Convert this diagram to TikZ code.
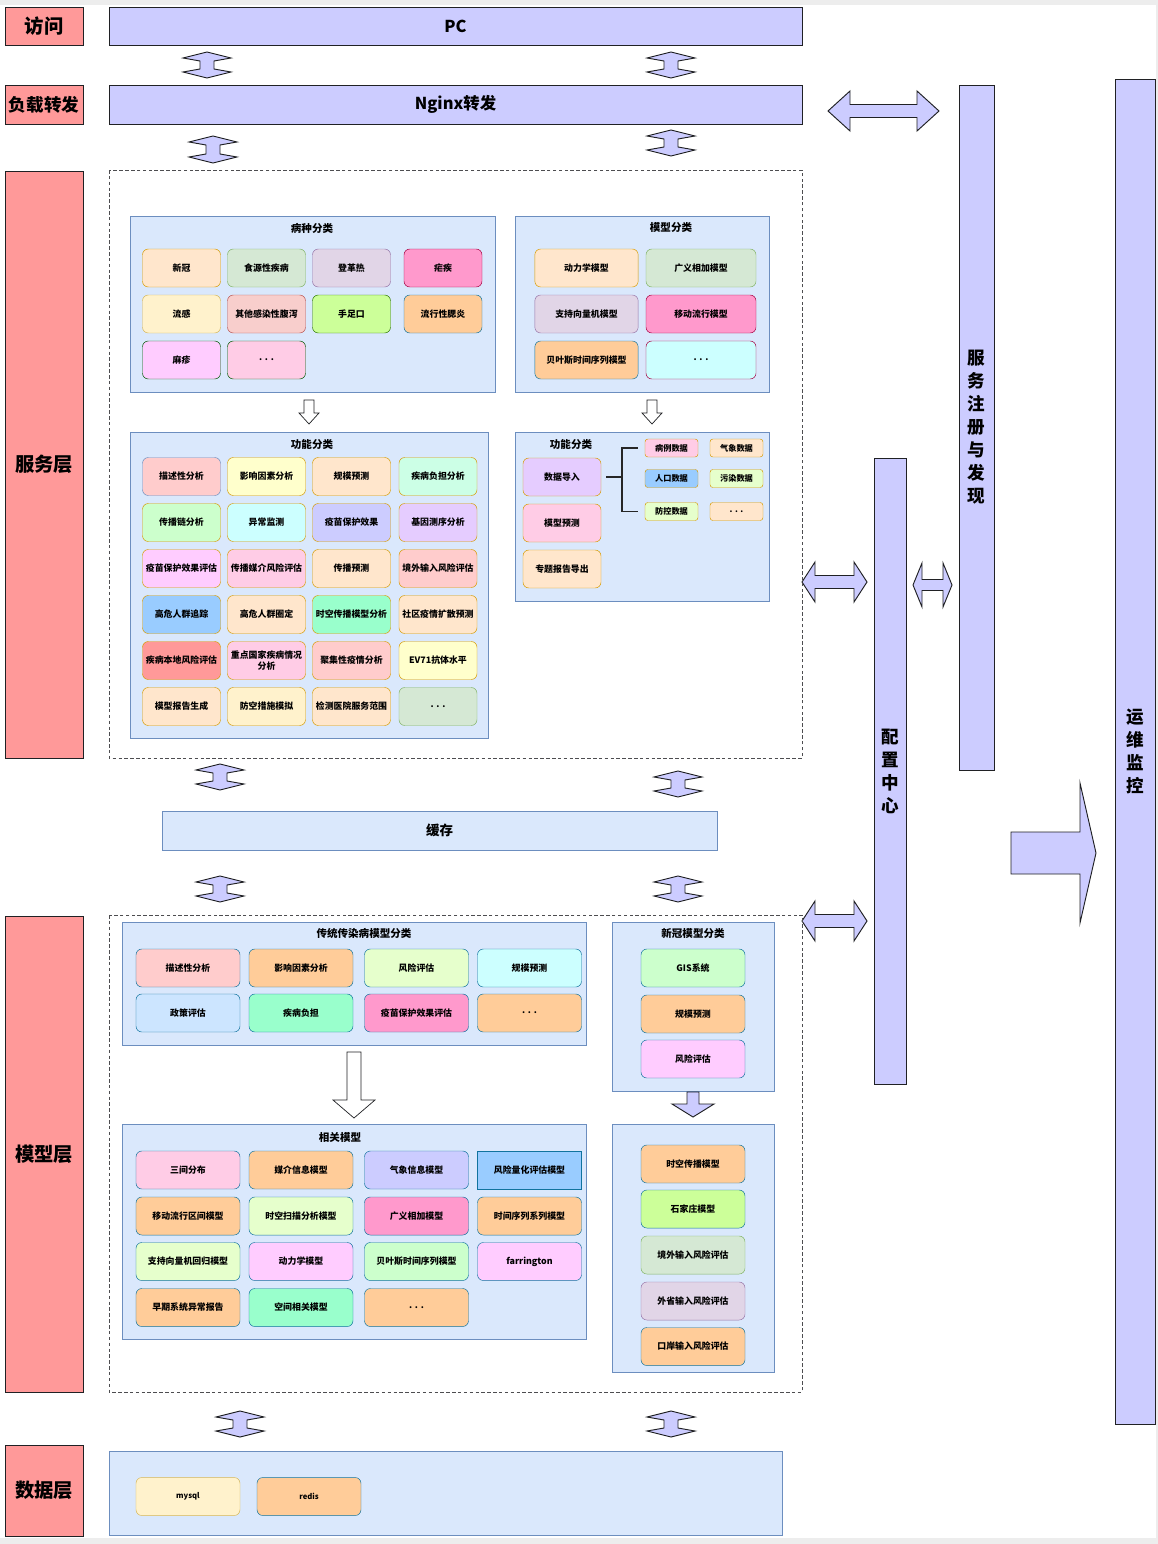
\documentclass[tikz,border=0pt]{standalone}
\usepackage{fontspec}
\setmainfont{Noto Sans CJK SC}
\usepackage{xcolor}

\definecolor{layred}{HTML}{FF9999}
\definecolor{laybar}{HTML}{CCCCFF}
\definecolor{edge}{HTML}{202124}
\definecolor{grpfill}{HTML}{DAE8FC}
\definecolor{grpline}{HTML}{6C8EBF}
\definecolor{org}{HTML}{FFE6CC}
\definecolor{orgl}{HTML}{D79B00}
\definecolor{grn}{HTML}{D5E8D4}
\definecolor{grnl}{HTML}{82B366}
\definecolor{pur}{HTML}{E1D5E7}
\definecolor{purl}{HTML}{9673A6}
\definecolor{pnk}{HTML}{FF99CC}
\definecolor{pnkl}{HTML}{A50040}
\definecolor{ylw}{HTML}{FFF2CC}
\definecolor{ylwl}{HTML}{D6B656}
\definecolor{rdf}{HTML}{F8CECC}
\definecolor{rdl}{HTML}{B85450}
\definecolor{limef}{HTML}{CCFF99}
\definecolor{limel}{HTML}{2D7600}
\definecolor{peach}{HTML}{FFCC99}
\definecolor{bluel}{HTML}{10739E}
\definecolor{mag}{HTML}{FFCCFF}
\definecolor{dgrn}{HTML}{005700}
\definecolor{rose}{HTML}{FFCCE6}
\definecolor{cyanf}{HTML}{CCFFFF}
\definecolor{salm}{HTML}{FFCCCC}
\definecolor{lyel}{HTML}{FFFFCC}
\definecolor{mint}{HTML}{CCFFE6}
\definecolor{lgrn}{HTML}{CCFFCC}
\definecolor{lav}{HTML}{E5CCFF}
\definecolor{sky}{HTML}{99CCFF}
\definecolor{aqua}{HTML}{99FFCC}
\definecolor{coral}{HTML}{FF9999}
\definecolor{pale}{HTML}{E6FFCC}
\definecolor{iceb}{HTML}{CCE5FF}

\newcommand{\updown}[3]{\draw[arr] (#1,#2) -- (#1+24,#2+6) -- (#1+7,#2+9) -- (#1+7,#3-9) -- (#1+24,#3-6) -- (#1,#3) -- (#1-24,#3-6) -- (#1-7,#3-9) -- (#1-7,#2+9) -- (#1-24,#2+6) -- cycle;}
\newcommand{\sideways}[6]{\draw[arr] (#1,#3) -- (#1+#4,#3-#5) -- (#1+#4,#3-#6) -- (#2-#4,#3-#6) -- (#2-#4,#3-#5) -- (#2,#3) -- (#2-#4,#3+#5) -- (#2-#4,#3+#6) -- (#1+#4,#3+#6) -- (#1+#4,#3+#5) -- cycle;}
\newcommand{\godown}[7]{\draw[#1] (#2-#6,#3) -- (#2+#6,#3) -- (#2+#6,#4) -- (#2+#7,#4) -- (#2,#5) -- (#2-#7,#4) -- (#2-#6,#4) -- cycle;}

\begin{document}
\begin{tikzpicture}[x=0.03cm, y=-0.03cm, font=\bfseries,
  laybox/.style={draw=edge, line width=0.8pt, fill=layred, minimum width=2.34cm, inner sep=0, font=\bfseries\fontsize{16.5}{20}\selectfont},
  bar/.style={draw=edge, line width=0.8pt, fill=laybar, inner sep=0},
  grp/.style={draw=grpline, fill=grpfill},
  grptitle/.style={inner sep=0, font=\bfseries\fontsize{9}{11}\selectfont},
  vtext/.style={bar, align=center, font=\bfseries\fontsize{15}{19.6}\selectfont},
  cell/.style={rounded corners=5pt, minimum width=2.34cm, minimum height=1.14cm, inner sep=0, align=center, font=\bfseries\fontsize{7.6}{9}\selectfont},
  mcell/.style={cell, minimum width=3.1cm},
  wcell/.style={cell, minimum width=3.12cm},
  tag/.style={cell, rounded corners=2.5pt, minimum width=1.59cm, minimum height=0.54cm, font=\bfseries\fontsize{7}{8}\selectfont},
  arr/.style={draw=edge, line width=0.8pt, fill=laybar, line join=miter},
  hollow/.style={draw=edge, line width=0.6pt, fill=white},
  zone/.style={draw=edge!80, line width=0.7pt, dash pattern=on 3pt off 2pt},
  brace/.style={draw=black!85, line width=1pt}]

  \useasboundingbox (0,0) rectangle (1158,1544);
  \fill[black!7] (0,0) rectangle (1158,1544);
  \fill[white] (0,5) rectangle (1156,1538);

  \node[laybox, minimum height=1.14cm] (acc) at (44,26) {访问};
  \node[laybox, minimum height=1.17cm, font=\bfseries\fontsize{15}{18}\selectfont] (lb) at (44,104.5) {负载转发};
  \node[laybox, minimum height=17.61cm] (svc) at (44,464.5) {服务层};
  \node[laybox, minimum height=14.28cm] (mdl) at (44,1154) {模型层};
  \node[laybox, minimum height=2.73cm] (dat) at (44,1490.5) {数据层};

  \node[bar, minimum width=20.79cm, minimum height=1.14cm, font=\bfseries\fontsize{14}{16}\selectfont] (pc) at (455.5,26) {PC};
  \node[bar, minimum width=20.79cm, minimum height=1.17cm, font=\bfseries\fontsize{14}{16}\selectfont] (nginx) at (455.5,104.5) {Nginx转发};

  \node[vtext, minimum width=1.05cm, minimum height=20.55cm] (reg) at (976.5,427.5) {服\\务\\注\\册\\与\\发\\现};
  \node[vtext, minimum width=0.96cm, minimum height=18.78cm] (cfg) at (890,771) {配\\置\\中\\心};
  \node[vtext, minimum width=1.2cm, minimum height=40.35cm] (ops) at (1135,751.5) {运\\维\\监\\控};

  \updown{207}{52}{78}
  \updown{671}{52}{78}
  \updown{213}{136}{163}
  \updown{671}{130}{156}
  \updown{220}{764}{790}
  \updown{678}{771}{797}
  \updown{220}{876}{902}
  \updown{678}{876}{902}
  \updown{240}{1411}{1437}
  \updown{671}{1411}{1437}

  \sideways{828}{939}{111}{22}{20}{6.5}
  \sideways{802}{867}{582}{13}{20}{6.5}
  \sideways{913}{952}{585}{9}{22}{5.5}
  \sideways{802}{867}{921}{13}{20}{6.5}
  \draw[arr] (1011,832) -- (1080,832) -- (1080,783) -- (1096,853) -- (1080,923) -- (1080,874) -- (1011,874) -- cycle;

  \draw[zone] (109,170) rectangle (802,758);
  \draw[zone] (109,915) rectangle (802,1392);

  \draw[grp] (130,216) rectangle (495,392);
  \node[grptitle] (Bt) at (312,228) {病种分类};
  \node[cell, fill=org, draw=orgl]     (B1)  at (181.5,268) {新冠};
  \node[cell, fill=grn, draw=grnl]     (B2)  at (266.5,268) {食源性疾病};
  \node[cell, fill=pur, draw=purl]     (B3)  at (351.5,268) {登革热};
  \node[cell, fill=pnk, draw=pnkl]     (B4)  at (443,268)   {疟疾};
  \node[cell, fill=ylw, draw=ylwl]     (B5)  at (181.5,314) {流感};
  \node[cell, fill=rdf, draw=rdl]      (B6)  at (266.5,314) {其他感染性腹泻};
  \node[cell, fill=limef, draw=limel]  (B7)  at (351.5,314) {手足口};
  \node[cell, fill=peach, draw=bluel]  (B8)  at (443,314)   {流行性腮炎};
  \node[cell, fill=mag, draw=dgrn]     (B9)  at (181.5,360) {麻疹};
  \node[cell, fill=rose, draw=dgrn]    (B10) at (266.5,360) {. . .};

  \draw[grp] (515,216) rectangle (769,392);
  \node[grptitle] (Mt) at (671,228) {模型分类};
  \node[mcell, fill=org, draw=orgl]    (M1) at (586.5,268) {动力学模型};
  \node[mcell, fill=grn, draw=grnl, minimum width=3.3cm]   (M2) at (701,268) {广义相加模型};
  \node[mcell, fill=pur, draw=purl]    (M3) at (586.5,314) {支持向量机模型};
  \node[mcell, fill=pnk, draw=pnkl, minimum width=3.3cm]   (M4) at (701,314) {移动流行模型};
  \node[mcell, fill=peach, draw=bluel] (M5) at (586.5,360) {贝叶斯时间序列模型};
  \node[mcell, fill=cyanf, draw=pnkl, minimum width=3.3cm] (M6) at (701,360) {. . .};

  \godown{hollow}{309}{400}{413}{424}{5}{10}
  \godown{hollow}{652}{400}{413}{424}{5}{10}

  \draw[grp] (130,432) rectangle (488,738);
  \node[grptitle] (Ft) at (312,444) {功能分类};
  \node[cell, fill=salm, draw=grpline] (F1)  at (181.5,476.5) {描述性分析};
  \node[cell, fill=lyel, draw=orgl]    (F2)  at (266.5,476.5) {影响因素分析};
  \node[cell, fill=org, draw=orgl]     (F3)  at (351.5,476.5) {规模预测};
  \node[cell, fill=mint, draw=orgl]    (F4)  at (438,476.5)   {疾病负担分析};
  \node[cell, fill=lgrn, draw=orgl]    (F5)  at (181.5,522.5) {传播链分析};
  \node[cell, fill=cyanf, draw=orgl]   (F6)  at (266.5,522.5) {异常监测};
  \node[cell, fill=laybar, draw=orgl]  (F7)  at (351.5,522.5) {疫苗保护效果};
  \node[cell, fill=lav, draw=orgl]     (F8)  at (438,522.5)   {基因测序分析};
  \node[cell, fill=mag, draw=orgl]     (F9)  at (181.5,568.5) {疫苗保护效果评估};
  \node[cell, fill=rose, draw=orgl]    (F10) at (266.5,568.5) {传播媒介风险评估};
  \node[cell, fill=org, draw=orgl]     (F11) at (351.5,568.5) {传播预测};
  \node[cell, fill=salm, draw=orgl]    (F12) at (438,568.5)   {境外输入风险评估};
  \node[cell, fill=sky, draw=orgl]     (F13) at (181.5,614.5) {高危人群追踪};
  \node[cell, fill=org, draw=orgl]     (F14) at (266.5,614.5) {高危人群圈定};
  \node[cell, fill=aqua, draw=orgl]    (F15) at (351.5,614.5) {时空传播模型分析};
  \node[cell, fill=org, draw=orgl]     (F16) at (438,614.5)   {社区疫情扩散预测};
  \node[cell, fill=coral, draw=orgl]   (F17) at (181.5,660.5) {疾病本地风险评估};
  \node[cell, fill=rose, draw=orgl]    (F18) at (266.5,660.5) {重点国家疾病情况\\分析};
  \node[cell, fill=salm, draw=orgl]    (F19) at (351.5,660.5) {聚集性疫情分析};
  \node[cell, fill=lyel, draw=orgl]    (F20) at (438,660.5)   {EV71抗体水平};
  \node[cell, fill=org, draw=orgl]     (F21) at (181.5,706.5) {模型报告生成};
  \node[cell, fill=ylw, draw=orgl]     (F22) at (266.5,706.5) {防空措施模拟};
  \node[cell, fill=org, draw=orgl]     (F23) at (351.5,706.5) {检测医院服务范围};
  \node[cell, fill=grn, draw=grnl]     (F24) at (438,706.5)   {. . .};

  \draw[grp] (515,432) rectangle (769,601);
  \node[grptitle] (Dt) at (571,444) {功能分类};
  \node[cell, fill=lav, draw=orgl]  (D1) at (562,477) {数据导入};
  \node[cell, fill=rose, draw=orgl] (D2) at (562,523) {模型预测};
  \node[cell, fill=org, draw=orgl]  (D3) at (562,569) {专题报告导出};
  \node[tag, fill=rose, draw=orgl]  (T1) at (671.5,448)   {病例数据};
  \node[tag, fill=org, draw=orgl]   (T2) at (736.5,448)   {气象数据};
  \node[tag, fill=sky, draw=orgl]   (T3) at (671.5,478.5) {人口数据};
  \node[tag, fill=pale, draw=orgl]  (T4) at (736.5,478.5) {污染数据};
  \node[tag, fill=pale, draw=orgl]  (T5) at (671.5,511.5) {防控数据};
  \node[tag, fill=org, draw=orgl]   (T6) at (736.5,511.5) {. . .};
  \coordinate (brk) at (622,477);
  \draw[brace] ([xshift=1.5mm]D1.east) -- (brk);
  \draw[brace] ([xshift=-2.1mm]T1.west) -| (brk) |- ([xshift=-2.1mm]T5.west);

  \node[grp, minimum width=16.65cm, minimum height=1.17cm, font=\bfseries\fontsize{11.5}{14}\selectfont] (cache) at (439.5,830.5) {缓存};

  \draw[grp] (122,922) rectangle (586,1045);
  \node[grptitle] (Ct) at (364,933) {传统传染病模型分类};
  \node[wcell, fill=salm, draw=bluel]  (C1) at (188,968)    {描述性分析};
  \node[wcell, fill=peach, draw=bluel] (C2) at (301,968)    {影响因素分析};
  \node[wcell, fill=pale, draw=bluel]  (C3) at (416.5,968)  {风险评估};
  \node[wcell, fill=cyanf, draw=bluel] (C4) at (529.5,968)  {规模预测};
  \node[wcell, fill=iceb, draw=bluel]  (C5) at (188,1013)   {政策评估};
  \node[wcell, fill=aqua, draw=bluel]  (C6) at (301,1013)   {疾病负担};
  \node[wcell, fill=pnk, draw=bluel]   (C7) at (416.5,1013) {疫苗保护效果评估};
  \node[wcell, fill=peach, draw=bluel] (C8) at (529.5,1013) {. . .};

  \draw[grp] (612,922) rectangle (774,1091);
  \node[grptitle] (Nt) at (693,933) {新冠模型分类};
  \node[wcell, fill=lgrn, draw=bluel]  (N1) at (693,968)  {GIS系统};
  \node[wcell, fill=peach, draw=bluel] (N2) at (693,1014) {规模预测};
  \node[wcell, fill=mag, draw=bluel]   (N3) at (693,1059) {风险评估};

  \godown{hollow}{354}{1052}{1100}{1118}{7}{21}
  \godown{arr}{693}{1092}{1104}{1117}{6}{21}

  \draw[grp] (122,1124) rectangle (586,1339);
  \node[grptitle] (Rt) at (340,1137) {相关模型};
  \node[wcell, fill=rose, draw=bluel]  (R1)  at (188,1170)    {三间分布};
  \node[wcell, fill=peach, draw=bluel] (R2)  at (301,1170)    {媒介信息模型};
  \node[wcell, fill=laybar, draw=bluel] (R3) at (416.5,1170)  {气象信息模型};
  \node[wcell, fill=sky, draw=bluel, sharp corners] (R4) at (529.5,1170) {风险量化评估模型};
  \node[wcell, fill=peach, draw=bluel] (R5)  at (188,1216)    {移动流行区间模型};
  \node[wcell, fill=pale, draw=bluel]  (R6)  at (301,1216)    {时空扫描分析模型};
  \node[wcell, fill=pnk, draw=bluel]   (R7)  at (416.5,1216)  {广义相加模型};
  \node[wcell, fill=peach, draw=bluel] (R8)  at (529.5,1216)  {时间序列系列模型};
  \node[wcell, fill=pale, draw=bluel]  (R9)  at (188,1261.5)  {支持向量机回归模型};
  \node[wcell, fill=mag, draw=bluel]   (R10) at (301,1261.5)  {动力学模型};
  \node[wcell, fill=lgrn, draw=bluel]  (R11) at (416.5,1261.5) {贝叶斯时间序列模型};
  \node[wcell, fill=mag, draw=bluel]   (R12) at (529.5,1261.5) {farrington};
  \node[wcell, fill=peach, draw=bluel] (R13) at (188,1307.5)  {早期系统异常报告};
  \node[wcell, fill=aqua, draw=bluel]  (R14) at (301,1307.5)  {空间相关模型};
  \node[wcell, fill=peach, draw=bluel] (R15) at (416.5,1307.5) {. . .};

  \draw[grp] (612,1124) rectangle (774,1372);
  \node[wcell, fill=peach, draw=bluel] (S1) at (693,1164)   {时空传播模型};
  \node[wcell, fill=limef, draw=bluel] (S2) at (693,1209)   {石家庄模型};
  \node[wcell, fill=grn, draw=grnl]    (S3) at (693,1255)   {境外输入风险评估};
  \node[wcell, fill=pur, draw=purl]    (S4) at (693,1301)   {外省输入风险评估};
  \node[wcell, fill=peach, draw=bluel] (S5) at (693,1346.5) {口岸输入风险评估};

  \draw[grp] (109,1451) rectangle (782,1535);
  \node[wcell, fill=ylw, draw=ylwl, font=\bfseries\fontsize{6.5}{8}\selectfont]    (db1) at (188,1496.5) {mysql};
  \node[wcell, fill=peach, draw=bluel, font=\bfseries\fontsize{6.5}{8}\selectfont] (db2) at (309,1496.5) {redis};
\end{tikzpicture}
\end{document}
